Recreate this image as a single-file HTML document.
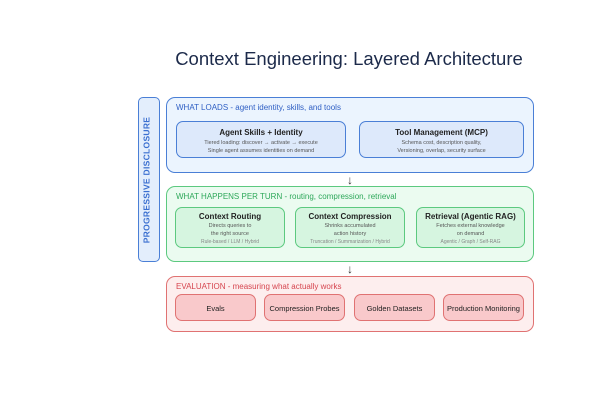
<!DOCTYPE html>
<html><head><style>
body{margin:0;width:600px;height:400px;background:#fff;font-family:"Liberation Sans",sans-serif;position:relative;overflow:hidden}
.a{position:absolute;box-sizing:border-box}
.t{text-align:center}
.sec{border-radius:9px;border:1.3px solid}
.hd{position:absolute;left:9px;top:5px;font-size:8px}
.bx{border-radius:7px;border:1.2px solid;text-align:center}
.bt{font-size:8px;font-weight:bold;color:#222;margin-top:6px}
.bs{font-size:5.5px;color:#555;line-height:8px}
.bg{font-size:5px;color:#888;line-height:8px}
.ar{font-size:12px;color:#333;line-height:12px}
</style></head><body>
<div class="a t" style="left:0;width:698px;top:48px;font-size:18.5px;color:#1c2a4a">Context Engineering: Layered Architecture</div>

<div class="a" style="left:138px;top:97px;width:22px;height:165px;background:#e3eefc;border:1.3px solid #4a7fd6;border-radius:5px"></div>
<div class="a t" style="left:66px;top:173px;width:165px;height:14px;transform:rotate(-90deg);font-size:8.5px;font-weight:bold;color:#3a6fd0;letter-spacing:0.3px">PROGRESSIVE DISCLOSURE</div>

<div class="a sec" style="left:166px;top:97px;width:368px;height:76px;background:#ebf4fe;border-color:#4a7fd6">
<div class="hd" style="color:#2f5fc4">WHAT LOADS - agent identity, skills, and tools</div></div>
<div class="a bx" style="left:176px;top:121px;width:170px;height:37px;background:#dde9fb;border-color:#4a7fd6">
<div class="bt">Agent Skills + Identity</div><div class="bs" style="margin-top:2px">Tiered loading: discover → activate → execute<br>Single agent assumes identities on demand</div></div>
<div class="a bx" style="left:359px;top:121px;width:165px;height:37px;background:#dde9fb;border-color:#4a7fd6">
<div class="bt">Tool Management (MCP)</div><div class="bs" style="margin-top:2px">Schema cost, description quality,<br>Versioning, overlap, security surface</div></div>

<div class="a t ar" style="left:340px;top:174px;width:20px">↓</div>

<div class="a sec" style="left:166px;top:186px;width:368px;height:76px;background:#ebfbf0;border-color:#5cc97f">
<div class="hd" style="color:#2ea85a">WHAT HAPPENS PER TURN - routing, compression, retrieval</div></div>
<div class="a bx" style="left:175px;top:207px;width:110px;height:41px;background:#d6f5e0;border-color:#5cc97f">
<div class="bt" style="margin-top:4px">Context Routing</div><div class="bs" style="margin-top:1px">Directs queries to<br>the right source</div><div class="bg">Rule-based / LLM / Hybrid</div></div>
<div class="a bx" style="left:295px;top:207px;width:110px;height:41px;background:#d6f5e0;border-color:#5cc97f">
<div class="bt" style="margin-top:4px">Context Compression</div><div class="bs" style="margin-top:1px">Shrinks accumulated<br>action history</div><div class="bg">Truncation / Summarization / Hybrid</div></div>
<div class="a bx" style="left:416px;top:207px;width:109px;height:41px;background:#d6f5e0;border-color:#5cc97f">
<div class="bt" style="margin-top:4px">Retrieval (Agentic RAG)</div><div class="bs" style="margin-top:1px">Fetches external knowledge<br>on demand</div><div class="bg">Agentic / Graph / Self-RAG</div></div>

<div class="a t ar" style="left:340px;top:263px;width:20px">↓</div>

<div class="a sec" style="left:166px;top:276px;width:368px;height:56px;background:#fdeeee;border-color:#e07272">
<div class="hd" style="color:#d6454f">EVALUATION - measuring what actually works</div></div>
<div class="a bx" style="left:175px;top:294px;width:81px;height:27px;background:#f9c9cb;border-color:#e07272"><div class="bt" style="font-size:7.5px;font-weight:normal;margin-top:9px">Evals</div></div>
<div class="a bx" style="left:264px;top:294px;width:81px;height:27px;background:#f9c9cb;border-color:#e07272"><div class="bt" style="font-size:7.5px;font-weight:normal;margin-top:9px">Compression Probes</div></div>
<div class="a bx" style="left:354px;top:294px;width:81px;height:27px;background:#f9c9cb;border-color:#e07272"><div class="bt" style="font-size:7.5px;font-weight:normal;margin-top:9px">Golden Datasets</div></div>
<div class="a bx" style="left:443px;top:294px;width:81px;height:27px;background:#f9c9cb;border-color:#e07272"><div class="bt" style="font-size:7.5px;font-weight:normal;margin-top:9px">Production Monitoring</div></div>
</body></html>
